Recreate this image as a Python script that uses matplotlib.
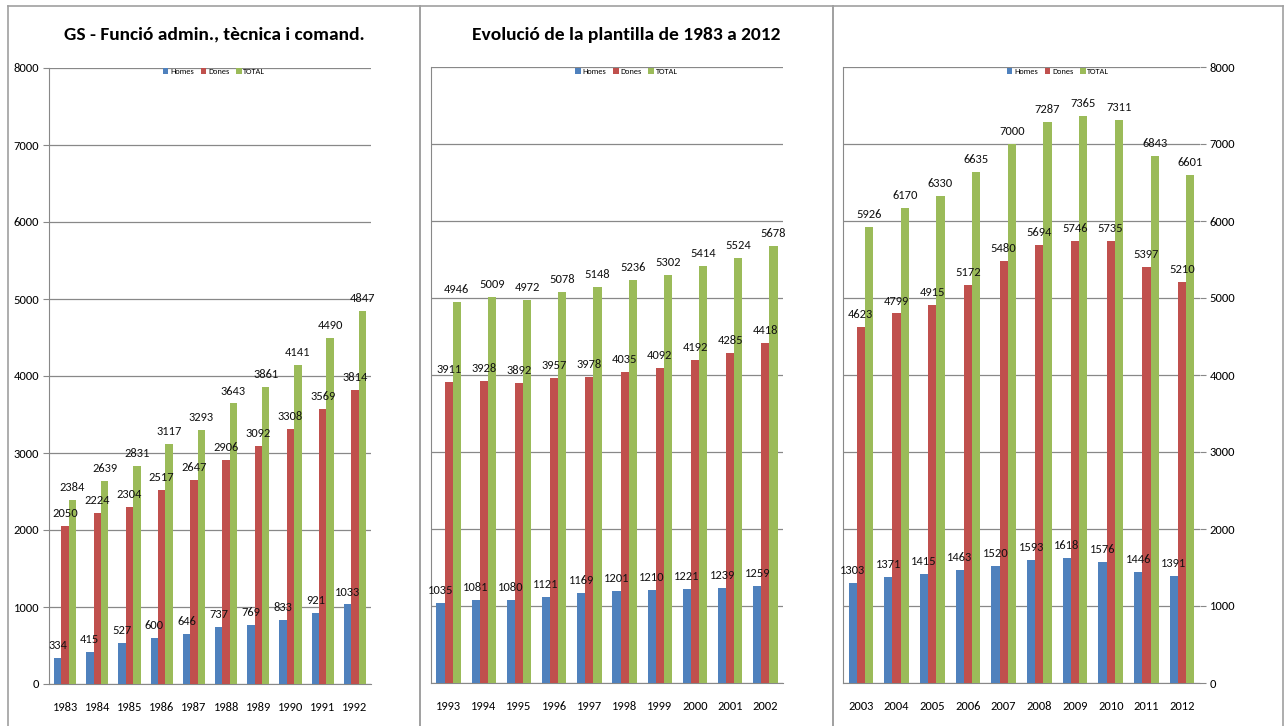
import matplotlib
matplotlib.use("Agg")
import matplotlib.pyplot as plt
from matplotlib import font_manager
from matplotlib.lines import Line2D
import numpy as np

installed = {f.name for f in font_manager.fontManager.ttflist}
wanted = ['Carlito', 'Liberation Sans Narrow', 'DejaVu Sans']
plt.rcParams['font.family'] = [f for f in wanted if f in installed] + ['DejaVu Sans']

years_a = ['1983', '1984', '1985', '1986', '1987', '1988', '1989', '1990', '1991', '1992']
homes_a = [334, 415, 527, 600, 646, 737, 769, 833, 921, 1033]
dones_a = [2050, 2224, 2304, 2517, 2647, 2906, 3092, 3308, 3569, 3814]
total_a = [2384, 2639, 2831, 3117, 3293, 3643, 3861, 4141, 4490, 4847]

years_b = ['1993', '1994', '1995', '1996', '1997', '1998', '1999', '2000', '2001', '2002']
homes_b = [1035, 1081, 1080, 1121, 1169, 1201, 1210, 1221, 1239, 1259]
dones_b = [3911, 3928, 3892, 3957, 3978, 4035, 4092, 4192, 4285, 4418]
total_b = [4946, 5009, 4972, 5078, 5148, 5236, 5302, 5414, 5524, 5678]

years_c = ['2003', '2004', '2005', '2006', '2007', '2008', '2009', '2010', '2011', '2012']
homes_c = [1303, 1371, 1415, 1463, 1520, 1593, 1618, 1576, 1446, 1391]
dones_c = [4623, 4799, 4915, 5172, 5480, 5694, 5746, 5735, 5397, 5210]
total_c = [5926, 6170, 6330, 6635, 7000, 7287, 7365, 7311, 6843, 6601]

series_names = ['Homes', 'Dones', 'TOTAL']
colors = ['#4F81BD', '#C0504D', '#9BBB59']
titles = ['GS - Funció admin., tècnica i comand.', 'Evolució de la plantilla de 1983 a 2012', '']

W, H = 1284, 726
fig = plt.figure(figsize=(W / 100, H / 100), dpi=100)

# panel frames (pixels): x0, x1
frames = [(8, 420), (420, 833), (833, 1283)]
# plot areas (pixels): left, right, top, bottom
areas = [(49, 371, 68, 684), (431, 783, 67, 683), (843, 1200, 67, 683)]
data = [(years_a, homes_a, dones_a, total_a),
        (years_b, homes_b, dones_b, total_b),
        (years_c, homes_c, dones_c, total_c)]

grid_col = '#888888'
bw = 0.23

for i in range(3):
    l, r, t, b = areas[i]
    ax = fig.add_axes([l / W, 1 - b / H, (r - l) / W, (b - t) / H])
    yrs, h, d, tot = data[i]
    x = np.arange(len(yrs))
    for k, vals in enumerate([h, d, tot]):
        bars = ax.bar(x + (k - 1) * bw, vals, bw, color=colors[k], label=series_names[k], zorder=3)
        ax.bar_label(bars, labels=[str(v) for v in vals], padding=5, fontsize=9,
                     color='#111111', zorder=4)
    ax.set_xlim(-0.5, len(yrs) - 0.5)
    ax.set_ylim(0, 8000)
    ax.set_yticks(range(0, 8001, 1000))
    ax.set_xticks(x)
    ax.set_xticklabels(yrs, fontsize=9)
    ax.tick_params(axis='x', length=0, pad=13)
    ax.grid(axis='y', color=grid_col, linewidth=0.9, zorder=0)
    for s in ['top', 'right']:
        ax.spines[s].set_visible(False)
    ax.spines['left'].set_color(grid_col)
    ax.spines['bottom'].set_color(grid_col)
    if i == 0:
        ax.tick_params(axis='y', labelsize=9, length=4, color=grid_col, pad=3)
    elif i == 1:
        ax.tick_params(axis='y', labelleft=False, length=0)
    else:
        ax.yaxis.tick_right()
        ax.tick_params(axis='y', labelsize=9, length=4, color=grid_col, pad=3)

    x0, x1 = frames[i]
    cx = (x0 + x1) / 2 / W
    if titles[i]:
        fig.text(cx, 1 - 35 / H, titles[i], ha='center', va='center',
                 fontsize=14, fontweight='bold')
    fig.legend(handles=list(ax.containers), labels=series_names, loc='center',
               bbox_to_anchor=(cx, 1 - 71 / H), ncol=3, frameon=False, fontsize=6,
               handlelength=0.7, handleheight=0.7, handletextpad=0.2, columnspacing=0.8)

# panel borders
fcol = '#a0a0a0'
for x0, x1 in frames:
    for xx in (x0, x1):
        fig.add_artist(Line2D([xx / W, xx / W], [0, 1 - 6 / H], color=fcol, linewidth=1.2))
    fig.add_artist(Line2D([x0 / W, x1 / W], [1 - 6 / H, 1 - 6 / H], color=fcol, linewidth=1.2))

fig.savefig('out.png', dpi=100, facecolor='white')
